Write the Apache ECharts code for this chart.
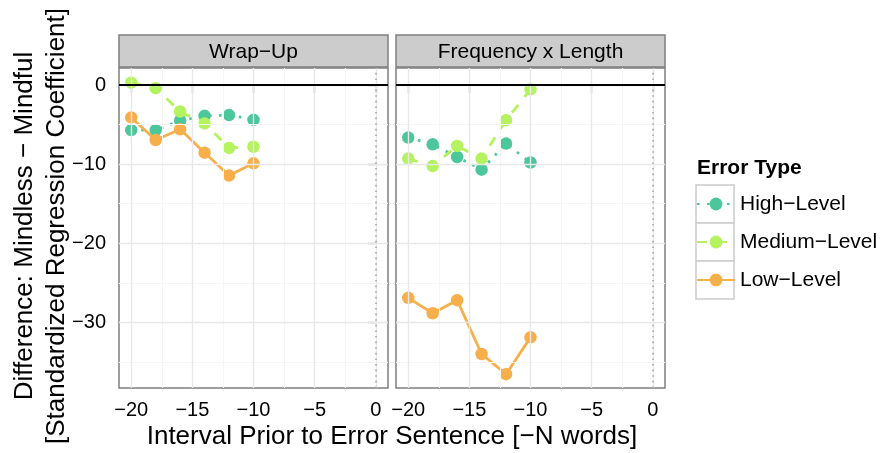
<!DOCTYPE html>
<html>
<head>
<meta charset="utf-8">
<script src="https://cdn.jsdelivr.net/npm/echarts@6/dist/echarts.min.js"></script>
<style>
  html, body { margin: 0; padding: 0; background: #ffffff; }
  #chart { width: 881px; height: 453px; }
</style>
</head>
<body>
<div id="chart"></div>
<script>
// Interval before the error sentence (in words)
const intervals = [-20, -18, -16, -14, -12, -10];
const panelNames = ['Wrap\u2212Up', 'Frequency x Length'];
const errorTypes = ['High\u2212Level', 'Medium\u2212Level', 'Low\u2212Level'];

// Wrap-Up panel: mindless minus mindful coefficients
const wrapHigh   = [-5.7, -5.7, -4.5, -3.9, -3.8, -4.4];
const wrapMedium = [0.3, -0.4, -3.35, -4.85, -7.95, -7.8];
const wrapLow    = [-4.1, -6.95, -5.6, -8.55, -11.45, -9.9];

// Frequency x Length panel
const freqHigh   = [-6.65, -7.5, -9.1, -10.7, -7.4, -9.8];
const freqMedium = [-9.3, -10.25, -7.7, -9.3, -4.45, -0.55];
const freqLow    = [-26.9, -28.85, -27.2, -34.0, -36.55, -31.9];

// Axis breaks
const xTicks = [-20, -15, -10, -5, 0];
const xMinor = [-17.5, -12.5, -7.5, -2.5];
const yTicks = [0, -10, -20, -30];
const yMinor = [-5, -15, -25, -35];

const panelValues = [
  [wrapHigh, wrapMedium, wrapLow],
  [freqHigh, freqMedium, freqLow]
];

const colors = ['#4cc79c', '#b5f25f', '#f7af4b'];
const lineTypes = [[2.6, 7.4], [10, 10], 'solid'];

const FONT = "'Liberation Sans', Arial, Helvetica, sans-serif";
const minus = s => String(s).replace('-', '\u2212');

// Panel layout
const panelTop = 68, panelHeight = 320, panelWidth = 269;
const panelLefts = [119, 396];
const stripTop = 35, stripHeight = 32;

const chart = echarts.init(document.getElementById('chart'), null, { renderer: 'canvas' });

const grids = panelLefts.map(l => ({
  left: l, top: panelTop, width: panelWidth, height: panelHeight,
  show: true, borderColor: '#7f7f7f', borderWidth: 1.5, backgroundColor: '#ffffff'
}));

const xAxes = panelLefts.map((l, i) => ({
  type: 'value', gridIndex: i, min: -21, max: 1,
  axisLine: { show: false },
  splitLine: { show: false },
  axisTick: { show: true, customValues: xTicks, length: 8, lineStyle: { color: '#333333', width: 1.2 } },
  axisLabel: { show: true, customValues: xTicks, formatter: v => minus(v), fontSize: 20, color: '#000000', fontFamily: FONT, margin: 12 }
}));

const yAxes = panelLefts.map((l, i) => ({
  type: 'value', gridIndex: i, min: -38.3, max: 2.15,
  axisLine: { show: false },
  splitLine: { show: false },
  axisTick: { show: i === 0, customValues: yTicks, length: 8, lineStyle: { color: '#333333', width: 1.2 } },
  axisLabel: { show: i === 0, customValues: yTicks, formatter: v => minus(v), fontSize: 20, color: '#000000', fontFamily: FONT, margin: 13 }
}));

const series = [];

// Background guides for each panel: grid lines, zero reference lines
panelLefts.forEach((l, p) => {
  const major = { color: '#e8e8e8', width: 1.4, type: 'solid' };
  const minor = { color: '#f5f5f5', width: 1, type: 'solid' };
  const guides = []
    .concat(xMinor.map(v => ({ xAxis: v, lineStyle: minor })))
    .concat(yMinor.map(v => ({ yAxis: v, lineStyle: minor })))
    .concat(xTicks.map(v => ({ xAxis: v, lineStyle: major })))
    .concat(yTicks.map(v => ({ yAxis: v, lineStyle: major })))
    .concat([
      { xAxis: 0, lineStyle: { color: '#a8a8a8', width: 1.6, type: [1.6, 4] } },
      { yAxis: 0, lineStyle: { color: '#000000', width: 2, type: 'solid' } }
    ]);
  series.push({
    type: 'line', xAxisIndex: p, yAxisIndex: p, data: [], z: 1, silent: true,
    markLine: { silent: true, symbol: ['none', 'none'], label: { show: false }, animation: false, data: guides }
  });
});

// Connecting lines
panelLefts.forEach((l, p) => {
  errorTypes.forEach((name, k) => {
    series.push({
      type: 'line', name: name, xAxisIndex: p, yAxisIndex: p, z: 2,
      data: intervals.map((x, j) => [x, panelValues[p][k][j]]),
      symbol: 'circle', symbolSize: 12, showSymbol: false,
      itemStyle: { color: colors[k] },
      lineStyle: { color: colors[k], width: 2.8, type: lineTypes[k], cap: 'butt' },
      animation: false, silent: true
    });
  });
});

// Points on top of all lines
panelLefts.forEach((l, p) => {
  errorTypes.forEach((name, k) => {
    series.push({
      type: 'scatter', name: name, xAxisIndex: p, yAxisIndex: p, z: 3,
      data: intervals.map((x, j) => [x, panelValues[p][k][j]]),
      symbol: 'circle', symbolSize: 12.5,
      itemStyle: { color: colors[k], opacity: 1 },
      animation: false, silent: true
    });
  });
});

const graphics = [];
// Facet strips
panelLefts.forEach((l, p) => {
  graphics.push({
    type: 'rect', z: 5,
    shape: { x: l, y: stripTop, width: panelWidth, height: stripHeight },
    style: { fill: '#cccccc', stroke: '#7f7f7f', lineWidth: 1.5 }
  });
  graphics.push({
    type: 'text', z: 6, x: l + panelWidth / 2, y: stripTop + stripHeight / 2 + 1,
    style: { text: panelNames[p], fill: '#000000', font: '21px ' + FONT, textAlign: 'center', textVerticalAlign: 'middle' }
  });
});
// Axis titles
graphics.push({
  type: 'text', z: 6, x: 392, y: 437,
  style: { text: 'Interval Prior to Error Sentence [\u2212N words]', fill: '#000000', font: '26px ' + FONT, textAlign: 'center', textVerticalAlign: 'middle' }
});
graphics.push({
  type: 'text', z: 6, x: 41, y: 226, rotation: Math.PI / 2,
  style: { text: 'Difference: Mindless \u2212 Mindful\n[Standardized Regression Coefficient]', fill: '#000000', font: '26px ' + FONT, textAlign: 'center', textVerticalAlign: 'middle', lineHeight: 32 }
});
// Legend title and key boxes
graphics.push({
  type: 'text', z: 6, x: 697, y: 168,
  style: { text: 'Error Type', fill: '#000000', font: 'bold 21px ' + FONT, textAlign: 'left', textVerticalAlign: 'middle' }
});
errorTypes.forEach((n, k) => {
  graphics.push({
    type: 'rect', z: 0,
    shape: { x: 696, y: 185 + k * 38, width: 38, height: 38 },
    style: { fill: '#ffffff', stroke: '#cccccc', lineWidth: 1.5 }
  });
});

chart.setOption({
  animation: false,
  backgroundColor: '#ffffff',
  textStyle: { fontFamily: FONT },
  grid: grids,
  xAxis: xAxes,
  yAxis: yAxes,
  legend: {
    data: errorTypes, orient: 'vertical', left: 696, top: 185, padding: 0,
    itemWidth: 38, itemHeight: 16, itemGap: 0, selectedMode: false,
    textStyle: { fontSize: 21, color: '#000000', fontFamily: FONT, lineHeight: 38, height: 38 }
  },
  graphic: graphics,
  series: series
});
</script>
</body>
</html>
